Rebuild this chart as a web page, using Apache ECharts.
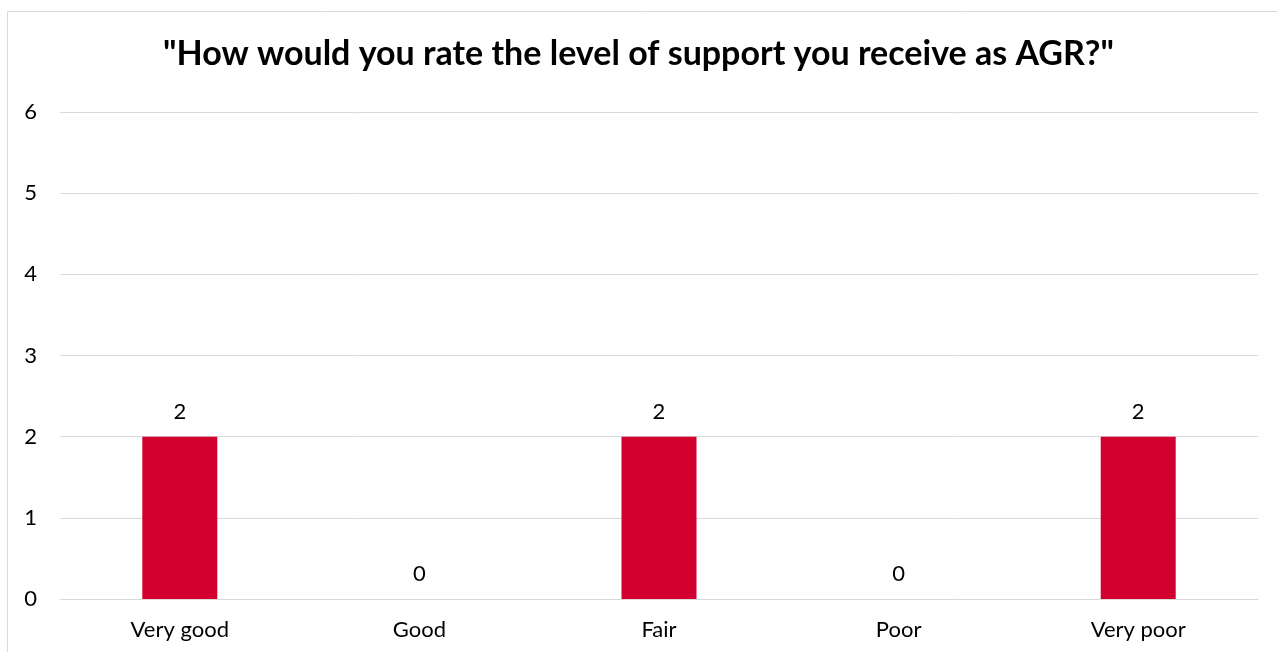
<!DOCTYPE html>
<html>
<head>
<meta charset="utf-8">
<script src="https://cdn.jsdelivr.net/npm/echarts@6/dist/echarts.min.js"></script>
<style>
  html, body { margin: 0; padding: 0; background: #fff; }
  #chart { width: 1277px; height: 652px; }
</style>
</head>
<body>
<div id="chart"></div>
<script>
const categories = ['Very good', 'Good', 'Fair', 'Poor', 'Very poor']
const counts = [2, 0, 2, 0, 2]
const yTicks = [0, 1, 2, 3, 4, 5, 6]

const chart = echarts.init(document.getElementById('chart'))

const option = {
  backgroundColor: '#fff',
  animation: false,
  title: {
    text: '"How would you rate the level of support you receive as AGR?"',
    left: 'center',
    top: 32,
    textStyle: {
      fontFamily: 'Lato',
      fontWeight: 'bold',
      fontSize: 34,
      color: '#000'
    }
  },
  graphic: [
    {
      type: 'rect',
      shape: { x: 7.5, y: 11.5, width: 1290, height: 660 },
      style: { fill: 'none', stroke: '#d9d9d9', lineWidth: 1 },
      silent: true
    }
  ],
  grid: {
    left: 60,
    right: 19,
    top: 112,
    bottom: 53
  },
  xAxis: {
    type: 'category',
    data: categories,
    axisLine: { lineStyle: { color: '#d9d9d9', width: 1 } },
    axisTick: { show: false },
    axisLabel: {
      color: '#000',
      fontFamily: 'Lato',
      fontSize: 22,
      margin: 20
    }
  },
  yAxis: {
    type: 'value',
    min: yTicks[0],
    max: yTicks[yTicks.length - 1],
    interval: 1,
    axisLine: { show: false },
    axisTick: { show: false },
    axisLabel: {
      color: '#000',
      fontFamily: 'Lato',
      fontSize: 22,
      margin: 23
    },
    splitLine: { lineStyle: { color: '#d9d9d9', width: 1 } }
  },
  series: [
    {
      type: 'bar',
      data: counts,
      barWidth: 75,
      itemStyle: { color: '#d2002e' },
      label: {
        show: true,
        position: 'top',
        distance: 14,
        color: '#000',
        fontFamily: 'Lato',
        fontSize: 22
      }
    }
  ]
}

chart.setOption(option)
</script>
</body>
</html>
